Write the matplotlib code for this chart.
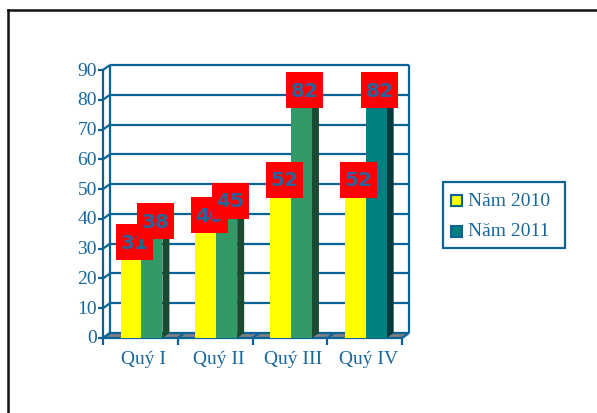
import matplotlib
matplotlib.use("Agg")
import matplotlib.pyplot as plt
from matplotlib.patches import Rectangle, Polygon
from matplotlib.lines import Line2D

categories = ["Quý I", "Quý II", "Quý III", "Quý IV"]
series_names = ["Năm 2010", "Năm 2011"]
values_2010 = [31, 40, 52, 52]
values_2011 = [38, 45, 82, 82]
yticks = [0, 10, 20, 30, 40, 50, 60, 70, 80, 90]

AXIS = "#0A6396"
TEXT = "#1A679C"
LABEL_TXT = "#2A639C"
YELLOW, YELLOW_SIDE = "#FFFF00", "#8C8C00"
GREEN, GREEN_SIDE = "#339966", "#1B4A33"
TEAL, TEAL_SIDE = "#008080", "#053A40"
colors_2011 = [GREEN, GREEN, GREEN, TEAL]
sides_2011 = [GREEN_SIDE, GREEN_SIDE, GREEN_SIDE, TEAL_SIDE]

W, H = 597, 414
fig = plt.figure(figsize=(W / 100, H / 100), dpi=100)
fig.patch.set_facecolor("white")

# front plane of the 3D plot box, in pixels
left, right, base, top = 103, 402, 339, 71
ax = fig.add_axes([left / W, (H - base) / H, (right - left) / W, (base - top) / H])
ax.set_xlim(0, 4)
ax.set_ylim(0, 90)
ax.axis("off")

px_x = 4 / (right - left)
px_y = 90 / (base - top)
DX, DY = 7 * px_x, 5 * px_y
lw = 1.6


def line(xs, ys, z=2, **kw):
    ax.add_line(Line2D(xs, ys, color=AXIS, lw=lw, zorder=z, clip_on=False,
                       solid_capstyle="butt", **kw))


# floor
ax.add_patch(Polygon([(0, 0), (4, 0), (4 + DX, DY), (DX, DY)], closed=True,
                     facecolor="#808080", edgecolor="none", zorder=1, clip_on=False))

# back wall gridlines + left wall
for y in yticks:
    line([DX, 4 + DX], [y + DY, y + DY], z=1.5)
    line([0, DX], [y, y + DY], z=1.5)
    line([-5 * px_x, 0], [y, y])
    ax.text(-6 * px_x, y, str(y), ha="right", va="center", color=TEXT,
            fontsize=14, family="Liberation Serif")
line([DX, DX], [DY, 90 + DY], z=1.5)
line([4 + DX, 4 + DX], [DY, 90 + DY], z=1.5)
line([0, 0], [0, 90])

# front floor edge, ticks
line([0, 4], [0, 0], z=1.6)
for i in range(5):
    line([i, i + DX], [0, DY], z=1.6)
    line([i, i], [0, -7 * px_y])
for i, c in enumerate(categories):
    ax.text(i + 0.5 + DX / 2, -21 * px_y, c, ha="center", va="center",
            color=TEXT, fontsize=14, family="Liberation Serif")

# bars
bw = 0.28
offs = [0.235, 0.235 + bw]
for i in range(4):
    for k, (v, fc, sc) in enumerate([(values_2010[i], YELLOW, YELLOW_SIDE),
                                     (values_2011[i], colors_2011[i], sides_2011[i])]):
        x0 = i + offs[k]
        x1 = x0 + bw
        z = 3 + k
        ax.add_patch(Polygon([(x1, 0), (x1 + DX, DY), (x1 + DX, v + DY), (x1, v)],
                             closed=True, facecolor=sc, edgecolor="none", zorder=z))
        ax.add_patch(Polygon([(x0, v), (x1, v), (x1 + DX, v + DY), (x0 + DX, v + DY)],
                             closed=True, facecolor=sc, edgecolor="none", zorder=z))
        ax.add_patch(Rectangle((x0, 0), bw, v, facecolor=fc, edgecolor="none", zorder=z))

# data labels: red 37x36 px boxes centred on the bar top
bx, by = 37 * px_x, 36 * px_y
for k, vals in enumerate([values_2010, values_2011]):
    for i, v in enumerate(vals):
        x = i + offs[k] + bw / 2 + DX / 2
        y = v + DY * 0.7
        ax.add_patch(Rectangle((x - bx / 2, y - by / 2), bx, by, facecolor="#FF0000",
                               edgecolor="none", zorder=10 + 2 * k))
        ax.text(x, y, str(v), ha="center", va="center", color=LABEL_TXT,
                fontsize=14.5, fontweight="bold", family="DejaVu Sans", zorder=11 + 2 * k)

# legend (drawn in figure pixels)
def fx(x):
    return x / W


def fy(y):
    return (H - y) / H


fig.add_artist(Rectangle((fx(443), fy(249)), fx(565) - fx(443), fy(183) - fy(249),
                         transform=fig.transFigure, facecolor="white",
                         edgecolor=AXIS, lw=1.6))
for name, col, yc in [(series_names[0], YELLOW, 201), (series_names[1], TEAL, 232)]:
    fig.add_artist(Rectangle((fx(451), fy(yc + 5.5)), fx(11), 11 / H,
                             transform=fig.transFigure, facecolor=col,
                             edgecolor=AXIS, lw=1.5))
    fig.text(fx(468), fy(yc), name, ha="left", va="center", color=TEXT,
             fontsize=14, family="Liberation Serif")

# outer frame (left and top edges visible)
fig.add_artist(Line2D([fx(8), fx(8)], [fy(11), 0], transform=fig.transFigure,
                      color="#111111", lw=1.8))
fig.add_artist(Line2D([fx(8), 1], [fy(11), fy(11)], transform=fig.transFigure,
                      color="#111111", lw=1.8))

fig.savefig("out.png", dpi=100)
